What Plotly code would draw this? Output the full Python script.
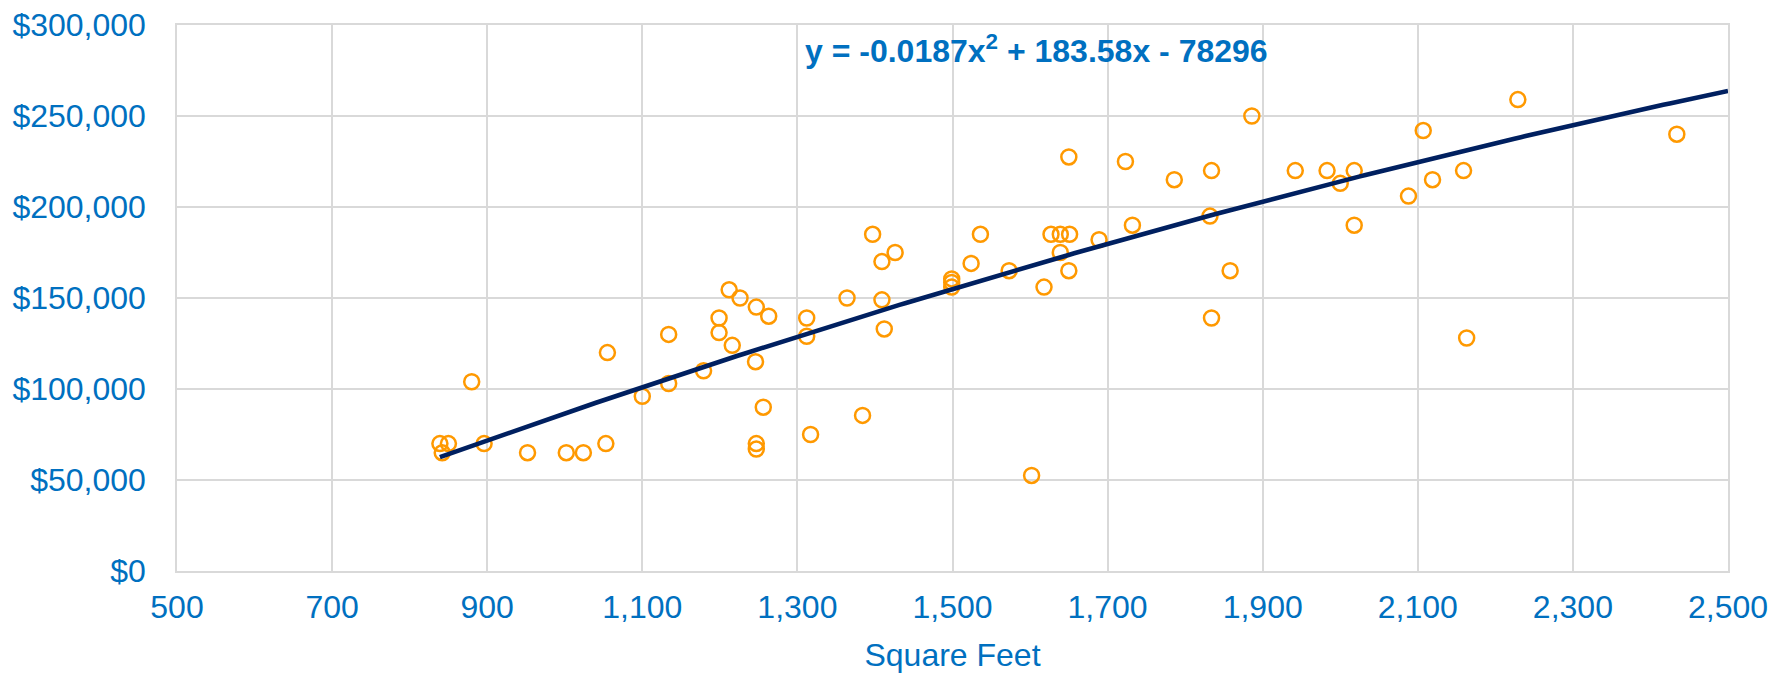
import numpy as np
import plotly.graph_objects as go

# Data
square_feet = [839, 850, 842, 880, 896, 952, 1002, 1024, 1053, 1055,
               1100, 1134, 1134, 1179, 1199, 1199, 1212, 1216, 1226, 1247,
               1246, 1263, 1256, 1247, 1247, 1312, 1312, 1317, 1364, 1409,
               1412, 1384, 1397, 1426, 1409, 1499, 1499, 1499, 1524, 1536,
               1573, 1618, 1602, 1627, 1639, 1651, 1639, 1650, 1650, 1689,
               1723, 1732, 1786, 1834, 1832, 1834, 1858, 1886, 1942, 1983,
               2018, 2000, 2018, 2088, 2107, 2119, 2159, 2163, 2229, 2434]
price = [70000, 70000, 65000, 104000, 70000, 65000, 65000, 65000, 70000, 120000,
         96000, 130000, 103000, 110000, 139000, 131000, 154500, 124000, 150000, 145000,
         115000, 140000, 90000, 70000, 67000, 139000, 129000, 75000, 150000, 149000,
         133000, 85500, 185000, 175000, 170000, 160500, 158500, 156000, 169000, 185000,
         165000, 156000, 52500, 185000, 185000, 185000, 175000, 165000, 227500, 182000,
         225000, 190000, 215000, 220000, 195000, 139000, 165000, 250000, 220000, 220000,
         220000, 213000, 190000, 206000, 242000, 215000, 220000, 128000, 259000, 240000]

# Polynomial trendline coefficients shown on the chart
trend_coef = [-0.0187, 183.58, -78296]
trend_x_end = 2500
equation_text = "y = -0.0187x<sup>2</sup> + 183.58x - 78296"

x_ticks = list(range(500, 2501, 200))
x_tick_labels = [f"{v:,}" for v in x_ticks]
y_ticks = list(range(0, 300001, 50000))
y_tick_labels = [f"${v:,}" for v in y_ticks]

blue = "#0070C0"
font_family = "Liberation Sans, Arial, sans-serif"

tx = np.linspace(min(square_feet), trend_x_end, 200)
ty = np.polyval(trend_coef, tx)

fig = go.Figure()
fig.add_trace(go.Scatter(
    x=square_feet, y=price, mode="markers",
    marker=dict(symbol="circle-open", size=15, color="#FF9900",
                line=dict(width=2.5, color="#FF9900")),
    showlegend=False, hoverinfo="x+y"))
fig.add_trace(go.Scatter(
    x=tx, y=ty, mode="lines",
    line=dict(color="#002060", width=4.6),
    showlegend=False, hoverinfo="skip"))

fig.add_annotation(
    x=1608, y=287000, xref="x", yref="y", text="<b>" + equation_text + "</b>",
    showarrow=False, font=dict(family=font_family, size=32, color=blue),
    xanchor="center", yanchor="middle")

fig.update_layout(
    width=1783, height=673,
    margin=dict(l=177, r=55, t=25, b=102),
    paper_bgcolor="white", plot_bgcolor="white",
    font=dict(family=font_family, color=blue, size=32),
)
fig.update_xaxes(
    range=[500, 2500], tickmode="array", tickvals=x_ticks, ticktext=x_tick_labels,
    showgrid=True, gridcolor="#D9D9D9", gridwidth=1.5,
    showline=True, linecolor="#D9D9D9", linewidth=1.5, mirror=True,
    zeroline=False, ticks="", ticklabelstandoff=7, automargin=False,
    tickfont=dict(size=32, color=blue, family=font_family),
    title=dict(text="Square Feet", font=dict(size=32, color=blue, family=font_family), standoff=20),
)
fig.update_yaxes(
    range=[0, 300000], tickmode="array", tickvals=y_ticks, ticktext=y_tick_labels,
    showgrid=True, gridcolor="#D9D9D9", gridwidth=1.5,
    showline=True, linecolor="#D9D9D9", linewidth=1.5, mirror=True,
    zeroline=False, ticks="", ticklabelstandoff=23, automargin=False,
    tickfont=dict(size=32, color=blue, family=font_family),
)

fig.write_html("out.html", config={"displayModeBar": False},
               post_script="document.body.style.margin='0';")
